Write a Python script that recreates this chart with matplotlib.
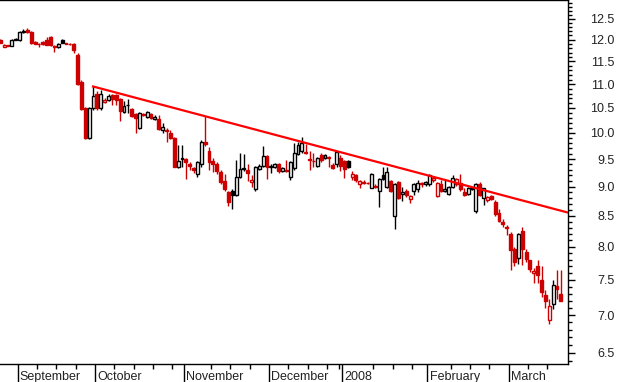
import numpy as np
import pandas as pd
import matplotlib
matplotlib.use("Agg")
import matplotlib.pyplot as plt
from matplotlib.ticker import FixedLocator, FuncFormatter, NullFormatter

plt.rcParams['font.family'] = ['Liberation Sans', 'DejaVu Sans']

# trading days (UK calendar)
holidays = ['2007-08-27', '2007-12-25', '2007-12-26', '2008-01-01']
dates = pd.bdate_range('2007-08-24', '2008-03-20')
dates = dates[~dates.isin(pd.to_datetime(holidays))]

opens = [12.00, 11.84, 11.87, 11.86, 12.00, 11.99, 12.19, 12.22, 12.18, 11.95,
         11.91, 11.95, 12.00, 12.07, 11.85, 11.82, 12.00, 11.92, 11.91, 11.91,
         11.65, 11.05, 10.50, 9.90, 10.50, 10.78, 10.50, 10.62, 10.66, 10.76,
         10.76, 10.68, 10.42, 10.55, 10.47, 10.38, 10.10, 10.38, 10.32, 10.38,
         10.27, 10.28, 10.06, 10.06, 9.99, 9.90, 9.35, 9.50, 9.50, 9.40,
         9.34, 9.22, 9.40, 9.83, 9.66, 9.47, 9.40, 9.27, 9.10, 8.90,
         8.93, 8.85, 9.18, 9.31, 9.30, 9.08, 8.95, 9.32, 9.37, 9.55,
         9.35, 9.36, 9.40, 9.28, 9.30, 9.18, 9.33, 9.60, 9.66, 9.64,
         9.50, 9.47, 9.37, 9.58, 9.52, 9.54, 9.39, 9.40, 9.52, 9.46,
         9.46, 9.18, 9.20, 9.05, 9.09, 9.07, 8.98, 9.02, 8.92, 9.20,
         9.00, 9.10, 8.50, 9.08, 8.88, 8.93, 8.78, 8.92, 8.96, 9.06,
         9.05, 9.04, 9.11, 8.84, 9.04, 8.93, 8.88, 9.00, 9.04, 9.06,
         8.90, 8.88, 8.96, 8.58, 9.04, 8.80, 8.76, 8.84, 8.74, 8.54,
         8.40, 8.31, 8.21, 7.97, 7.83, 8.25, 7.92, 7.80, 7.60, 7.70,
         7.50, 7.28, 6.93, 7.15, 7.41, 7.29]
highs = [12.02, 11.89, 11.88, 12.01, 12.03, 12.20, 12.25, 12.27, 12.20, 11.96,
         11.93, 11.96, 12.07, 12.08, 11.88, 11.92, 12.01, 11.93, 11.92, 11.92,
         11.70, 11.10, 10.52, 10.52, 10.95, 10.85, 10.88, 10.70, 10.80, 10.78,
         10.78, 10.70, 10.64, 10.68, 10.50, 10.40, 10.42, 10.40, 10.44, 10.40,
         10.36, 10.36, 10.20, 10.10, 10.05, 9.92, 9.76, 9.76, 9.52, 9.45,
         9.36, 9.46, 9.86, 10.33, 9.72, 9.52, 9.45, 9.30, 9.22, 8.92,
         8.95, 9.49, 9.62, 9.60, 9.40, 9.20, 9.37, 9.40, 9.75, 9.57,
         9.40, 9.42, 9.42, 9.35, 9.48, 9.47, 9.80, 9.82, 9.92, 9.78,
         9.65, 9.62, 9.54, 9.62, 9.60, 9.56, 9.42, 9.66, 9.58, 9.48,
         9.48, 9.28, 9.22, 9.12, 9.12, 9.09, 9.25, 9.05, 9.15, 9.35,
         9.35, 9.12, 9.06, 9.10, 9.00, 8.95, 8.86, 9.06, 9.12, 9.08,
         9.10, 9.22, 9.17, 9.08, 9.12, 9.12, 9.02, 9.20, 9.15, 9.22,
         8.98, 8.99, 9.00, 9.06, 9.08, 8.98, 8.84, 8.86, 8.76, 8.62,
         8.44, 8.35, 8.24, 8.00, 8.22, 8.32, 7.96, 7.80, 7.68, 7.80,
         7.70, 7.35, 7.23, 7.50, 7.64, 7.64]
lows = [11.92, 11.82, 11.85, 11.85, 11.99, 11.98, 12.17, 12.15, 11.90, 11.90,
        11.84, 11.88, 11.87, 11.86, 11.72, 11.80, 11.92, 11.90, 11.88, 11.70,
        10.98, 10.45, 9.88, 9.88, 10.45, 10.45, 10.45, 10.60, 10.64, 10.55,
        10.55, 10.24, 10.40, 10.40, 10.32, 9.99, 10.08, 10.34, 10.30, 10.28,
        10.25, 10.05, 10.00, 9.82, 9.88, 9.35, 9.33, 9.35, 9.13, 9.30,
        9.25, 9.18, 9.35, 9.75, 9.30, 9.27, 9.22, 9.05, 8.92, 8.66,
        8.62, 8.83, 9.15, 9.28, 9.10, 9.00, 8.93, 9.30, 9.35, 9.13,
        9.25, 9.34, 9.25, 9.26, 9.27, 9.12, 9.30, 9.58, 9.62, 9.60,
        9.30, 9.35, 9.35, 9.45, 9.50, 9.36, 9.32, 9.36, 9.28, 9.15,
        9.33, 9.12, 9.08, 8.98, 9.05, 9.04, 8.97, 8.98, 8.65, 9.12,
        8.98, 8.90, 8.29, 8.78, 8.75, 8.82, 8.72, 8.85, 8.90, 9.00,
        9.02, 9.02, 9.08, 8.82, 8.90, 8.90, 8.86, 8.98, 9.02, 8.93,
        8.84, 8.86, 8.94, 8.55, 8.84, 8.68, 8.74, 8.76, 8.50, 8.40,
        8.32, 8.18, 7.65, 7.70, 7.74, 7.72, 7.76, 7.62, 7.45, 7.45,
        7.25, 7.10, 6.88, 7.08, 7.23, 7.19]
closes = [11.93, 11.87, 11.86, 12.00, 12.02, 12.18, 12.21, 12.18, 11.92, 11.91,
          11.90, 11.89, 11.88, 11.87, 11.84, 11.90, 11.93, 11.91, 11.89, 11.77,
          11.00, 10.48, 9.90, 10.50, 10.74, 10.50, 10.80, 10.66, 10.75, 10.68,
          10.66, 10.44, 10.54, 10.57, 10.34, 10.30, 10.40, 10.36, 10.42, 10.30,
          10.31, 10.08, 10.12, 10.04, 9.90, 9.35, 9.46, 9.52, 9.45, 9.38,
          9.30, 9.45, 9.83, 9.79, 9.44, 9.40, 9.28, 9.08, 8.96, 8.73,
          8.85, 9.17, 9.31, 9.34, 9.24, 9.12, 9.35, 9.38, 9.55, 9.35,
          9.37, 9.40, 9.28, 9.33, 9.28, 9.45, 9.62, 9.76, 9.80, 9.62,
          9.49, 9.46, 9.52, 9.49, 9.58, 9.52, 9.34, 9.64, 9.37, 9.31,
          9.36, 9.23, 9.12, 9.10, 9.07, 9.06, 9.22, 9.00, 9.13, 9.14,
          9.26, 8.93, 9.04, 8.80, 8.90, 8.86, 8.84, 9.05, 9.07, 9.04,
          9.08, 9.20, 9.15, 9.06, 8.92, 8.96, 9.00, 9.16, 9.13, 8.95,
          8.86, 8.97, 8.98, 9.04, 8.86, 8.97, 8.82, 8.78, 8.53, 8.42,
          8.36, 8.30, 7.95, 7.77, 8.20, 7.97, 7.81, 7.66, 7.63, 7.57,
          7.32, 7.20, 7.12, 7.42, 7.37, 7.19]

# trendline drawn through two highs
trend_points = [24, 53]

y_major = [6.5, 7.0, 7.5, 8.0, 8.5, 9.0, 9.5, 10.0, 10.5, 11.0, 11.5, 12.0, 12.5]

RED = '#cc0000'
o = np.array(opens)
h = np.array(highs)
l = np.array(lows)
c = np.array(closes)
x = np.arange(len(c))
prev = np.concatenate([[o[0]], c[:-1]])
cols = [RED if cc < pp else 'black' for cc, pp in zip(c, prev)]
faces = [col if cc < oo else 'white' for col, cc, oo in zip(cols, c, o)]

fig = plt.figure(figsize=(6.17, 3.82), dpi=100)
ax = fig.add_axes([0, 18 / 382, 568 / 617, 364 / 382])
ax.set_yscale('log')

ax.vlines(x, l, h, colors=cols, lw=1.0, zorder=2)
bottom = np.minimum(o, c)
height = np.maximum(np.abs(c - o), 0.004)
ax.bar(x, height, bottom=bottom, width=0.75, color=faces, edgecolor=cols,
       linewidth=1.0, zorder=3)

# trendline
i0, i1 = trend_points
slope = (np.log(h[i1]) - np.log(h[i0])) / (i1 - i0)
tx = np.array([i0, 147.0])
ty = np.exp(np.log(h[i0]) + slope * (tx - i0))
ax.plot(tx, ty, color='#ff0000', lw=1.6, zorder=4)

ax.set_xlim(-0.07, 146.85)
ax.set_ylim(6.36, 12.97)

for s in ['top', 'bottom', 'right']:
    ax.spines[s].set_linewidth(1.0)
ax.spines['left'].set_visible(False)

# y axis on the right
ax.yaxis.tick_right()
ax.yaxis.set_major_locator(FixedLocator(y_major))
ax.yaxis.set_major_formatter(FuncFormatter(lambda v, p: '%.1f' % v))
minor = [round(v, 1) for v in np.arange(6.4, 13.0, 0.1) if round(v * 10) % 5 != 0]
ax.yaxis.set_minor_locator(FixedLocator(minor))
ax.yaxis.set_minor_formatter(NullFormatter())
ax.tick_params(axis='y', which='major', length=5, width=1, pad=28.5,
               labelsize=9, colors='black', labelcolor='#222222')
ax.tick_params(axis='y', which='minor', length=3, width=1)
for lbl in ax.get_yticklabels():
    lbl.set_horizontalalignment('right')

# x axis: month separators and weekly ticks
month_idx = [i for i in range(1, len(dates)) if dates[i].month != dates[i - 1].month]
month_names = [dates[i].strftime('%Y') if dates[i].month == 1 else dates[i].strftime('%B')
               for i in month_idx]
mondays = []
for i in range(len(dates)):
    d = dates[i]
    if d.weekday() == 0 and d.day > 7:
        mondays.append(i - 0.5)
ax.xaxis.set_major_locator(FixedLocator([i - 0.5 for i in month_idx]))
ax.xaxis.set_minor_locator(FixedLocator(mondays))
ax.tick_params(axis='x', which='major', length=13.5, width=1, labelbottom=False)
ax.tick_params(axis='x', which='minor', length=3.5, width=1)
for i, name in zip(month_idx, month_names):
    ax.annotate(name, xy=(i - 0.5, 0), xycoords=('data', 'axes fraction'),
                xytext=(1.5, -9.3), textcoords='offset points',
                ha='left', va='center', fontsize=9, color='#222222')

fig.savefig('out.png', dpi=100)
